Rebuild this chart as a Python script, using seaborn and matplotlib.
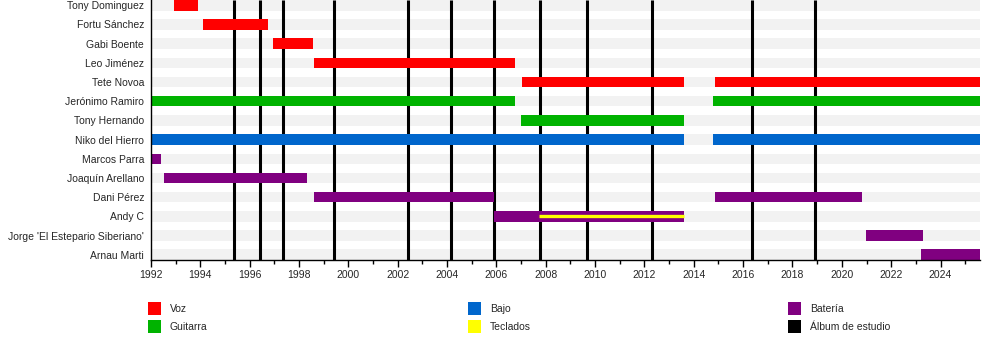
import matplotlib
matplotlib.use("Agg")
import matplotlib.pyplot as plt
import seaborn as sns
import pandas as pd
from matplotlib.patches import Rectangle

# ---------------- data ----------------
members = [
    "Tony Dominguez", "Fortu Sánchez", "Gabi Boente", "Leo Jiménez",
    "Tete Novoa", "Jerónimo Ramiro", "Tony Hernando", "Niko del Hierro",
    "Marcos Parra", "Joaquín Arellano", "Dani Pérez", "Andy C",
    "Jorge 'El Estepario Siberiano'", "Arnau Marti",
]

END = 2025.6

stint_member = [
    "Tony Dominguez", "Fortu Sánchez", "Gabi Boente", "Leo Jiménez",
    "Tete Novoa", "Tete Novoa",
    "Jerónimo Ramiro", "Jerónimo Ramiro",
    "Tony Hernando",
    "Niko del Hierro", "Niko del Hierro",
    "Marcos Parra", "Joaquín Arellano",
    "Dani Pérez", "Dani Pérez",
    "Andy C", "Jorge 'El Estepario Siberiano'", "Arnau Marti",
]
stint_start = [
    1992.93, 1994.11, 1996.95, 1998.61,
    2007.05, 2014.84,
    1992.0, 2014.76,
    2007.01,
    1992.0, 2014.76,
    1992.0, 1992.53,
    1998.61, 2014.84,
    2005.91, 2020.97, 2023.22,
]
stint_end = [
    1993.91, 1996.75, 1998.57, 2006.77,
    2013.62, END,
    2006.77, END,
    2013.62,
    2013.62, END,
    1992.41, 1998.33,
    2005.91, 2020.80,
    2013.62, 2023.28, END,
]
stint_role = [
    "Voz", "Voz", "Voz", "Voz",
    "Voz", "Voz",
    "Guitarra", "Guitarra",
    "Guitarra",
    "Bajo", "Bajo",
    "Batería", "Batería",
    "Batería", "Batería",
    "Batería", "Batería", "Batería",
]

keys_member = ["Andy C"]
keys_start = [2007.74]
keys_end = [2013.62]

album_years = [1995.38, 1996.43, 1997.37, 1999.40, 2002.40, 2004.16,
               2005.89, 2007.75, 2009.68, 2012.32, 2016.35, 2018.90]

legend_labels = ["Voz", "Guitarra", "Bajo", "Teclados", "Batería", "Álbum de estudio"]
legend_colors = ["#ff0000", "#00b300", "#0066cc", "#ffff00", "#800080", "#000000"]
role_colors = dict(zip(legend_labels, legend_colors))

x_start = 1992
major_years = list(range(1992, 2025, 2))
minor_years = list(range(1992, 2026))

# ---------------- style ----------------
sns.set_style("white")
plt.rcParams["font.family"] = ["Liberation Sans", "DejaVu Sans"]

fig = plt.figure(figsize=(10, 3.6), dpi=100)
ax = fig.add_axes([0.151, 1 - 260 / 360, 0.98 - 0.151, 260 / 360])

df = pd.DataFrame({"member": stint_member, "start": stint_start,
                   "end": stint_end, "role": stint_role})
ypos = {m: i for i, m in enumerate(members)}
h = 0.55

# background bands
ax.barh(range(len(members)), END - x_start, left=x_start, height=h,
        color="#f2f2f2", zorder=1, linewidth=0)
# album lines
ax.vlines(album_years, 0, 1, transform=ax.get_xaxis_transform(),
          colors="black", linewidth=2.2, zorder=2)
# member bars
ax.barh(df["member"].map(ypos), df["end"] - df["start"], left=df["start"],
        height=h, color=df["role"].map(role_colors), zorder=3, linewidth=0)
# keyboards
ax.hlines([ypos[m] for m in keys_member], keys_start, keys_end,
          colors=role_colors["Teclados"], linewidth=2.4, zorder=4)

ax.set_ylim(len(members) - 1 + h / 2, -h / 2)
ax.set_xlim(x_start, END)
ax.set_yticks(range(len(members)), members)
ax.set_xticks(major_years, [str(y) for y in major_years])
ax.set_xticks(minor_years, minor=True)
ax.tick_params(axis="y", length=0, pad=5, labelsize=7.5)
ax.tick_params(axis="x", which="both", bottom=True, direction="out",
               color="black", width=1)
ax.tick_params(axis="x", which="major", length=5, pad=2, labelsize=7.5)
ax.tick_params(axis="x", which="minor", length=3)
for s in ["top", "right"]:
    ax.spines[s].set_visible(False)
for s in ["left", "bottom"]:
    ax.spines[s].set_color("black")
    ax.spines[s].set_linewidth(1)
    ax.spines[s].set_zorder(5)

# legend (manual, 3 columns x 2 rows)
for i, (lab, col) in enumerate(zip(legend_labels, legend_colors)):
    c, r = i // 2, i % 2
    x0 = 148 + c * 320
    y0 = 302 + r * 17.5
    fig.add_artist(Rectangle((x0 / 1000, 1 - (y0 + 13) / 360), 13 / 1000, 13 / 360,
                             transform=fig.transFigure, facecolor=col, edgecolor="none"))
    fig.text((x0 + 22) / 1000, 1 - (y0 + 7) / 360, lab, fontsize=7.5,
             va="center", ha="left")

fig.savefig("out.png", dpi=100)
